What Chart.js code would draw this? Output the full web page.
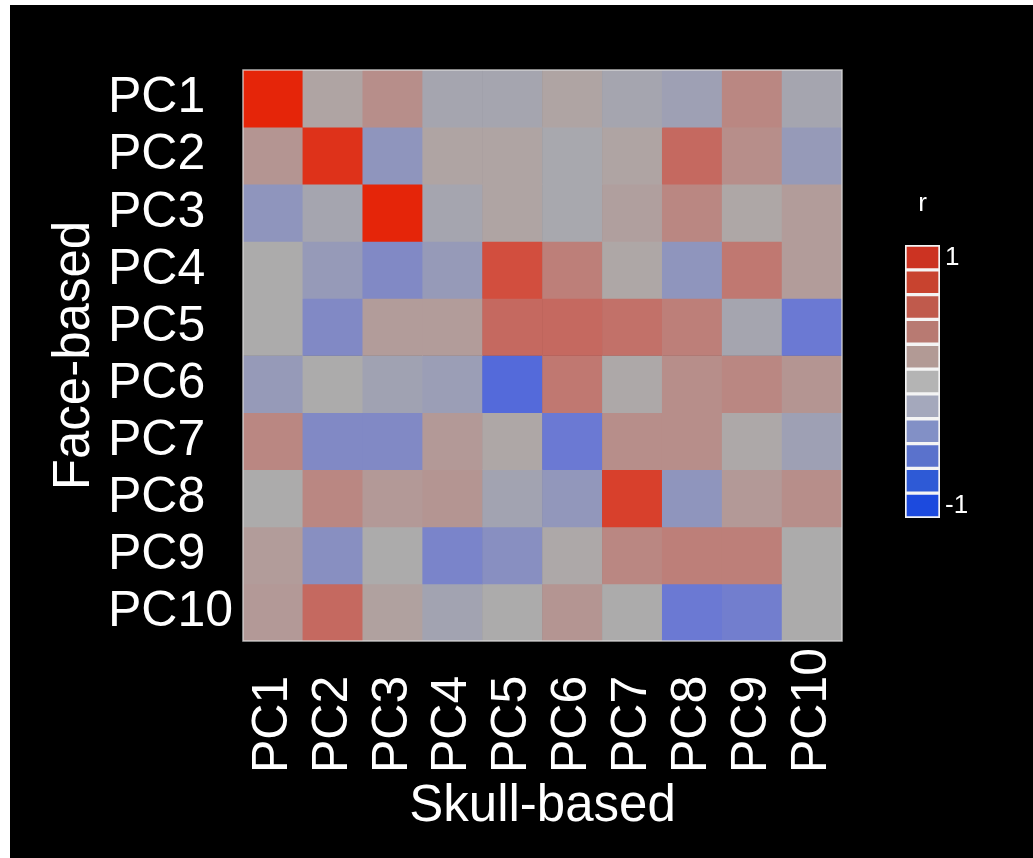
<!DOCTYPE html>
<html>
<head>
<meta charset="utf-8">
<script src="https://cdn.jsdelivr.net/npm/chart.js@4.4.1/dist/chart.umd.min.js"></script>
<style>
  body { margin: 0; background: #fff; }
  #wrap { position: absolute; left: 10px; top: 5px; width: 1023px; height: 853px; background: #000; }
  #heat { position: absolute; left: 0; top: 0; }
  #cbox { position: absolute; left: 870px; top: 175px; width: 120px; height: 360px; }
</style>
</head>
<body>
<div id="wrap">
  <canvas id="heat" width="1023" height="853"></canvas>
  <div id="cbox"><canvas id="cbar" width="120" height="360"></canvas></div>
</div>
<script>
// skull-based PCs along x, face-based PCs down y
const skullLabels = ['PC1','PC2','PC3','PC4','PC5','PC6','PC7','PC8','PC9','PC10'];
const faceLabels = ['PC1','PC2','PC3','PC4','PC5','PC6','PC7','PC8','PC9','PC10'];

// correlation r, one row per face-based PC
const corrValues = [
  [ 0.95,  0.05,  0.20, -0.05, -0.05,  0.05, -0.05, -0.10,  0.25, -0.05],
  [ 0.15,  0.85, -0.20,  0.05,  0.05, -0.03,  0.05,  0.45,  0.20, -0.15],
  [-0.20, -0.05,  0.95, -0.05,  0.05, -0.03,  0.08,  0.25,  0.03,  0.10],
  [ 0.00, -0.15, -0.30, -0.15,  0.65,  0.30,  0.03, -0.20,  0.35,  0.10],
  [ 0.00, -0.30,  0.10,  0.10,  0.45,  0.45,  0.40,  0.30, -0.05, -0.45],
  [-0.15,  0.00, -0.08, -0.12, -0.60,  0.35,  0.02,  0.20,  0.25,  0.15],
  [ 0.25, -0.30, -0.30,  0.12,  0.03, -0.45,  0.20,  0.20,  0.02, -0.10],
  [ 0.00,  0.25,  0.12,  0.15, -0.07, -0.18,  0.75, -0.20,  0.12,  0.20],
  [ 0.10, -0.25,  0.00, -0.35, -0.25,  0.02,  0.25,  0.30,  0.30,  0.00],
  [ 0.12,  0.45,  0.07, -0.07,  0.00,  0.15,  0.00, -0.45, -0.40,  0.00]
];

// colour bar levels (bottom to top) and its tick labels
const barLevels = [-1, -0.8, -0.6, -0.4, -0.2, 0, 0.2, 0.4, 0.6, 0.8, 1];
const barTicks = ['-1', '1'];

const barColors = ['#1c4ade','#2e5ad6','#5a72cc','#8290c6','#a4a8bc','#b4b4b4',
                   '#b29a95','#b87a72','#c05a4c','#c8432f','#cc3322'];

// r -> colour, blue / grey / red
const stops = [
  [-1,  [20, 72, 230]],
  [-0.5,[100, 115, 215]],
  [0,   [172, 171, 171]],
  [0.5, [200, 98, 88]],
  [1,   [232, 30, 0]]
];
function rColor(r) {
  for (var i = 0; i < stops.length - 1; i++) {
    var a = stops[i], b = stops[i + 1];
    if (r <= b[0]) {
      var t = (r - a[0]) / (b[0] - a[0]);
      var c = a[1].map((v, k) => Math.round(v + (b[1][k] - v) * t));
      return 'rgb(' + c.join(',') + ')';
    }
  }
  return 'rgb(232,30,0)';
}

const FONT = 'Liberation Sans, Arial, sans-serif';

const heatSets = corrValues.map((row, i) => ({
  label: faceLabels[i],
  data: row.map(() => [i + 0.5, i + 1.5]),
  backgroundColor: row.map(rColor),
  borderWidth: 0,
  barPercentage: 1,
  categoryPercentage: 1
}));

const frame = {
  id: 'frame',
  afterDatasetsDraw(chart) {
    const a = chart.chartArea, ctx = chart.ctx;
    ctx.save();
    ctx.strokeStyle = 'rgba(220,220,220,0.8)';
    ctx.lineWidth = 1.5;
    ctx.strokeRect(a.left, a.top, a.right - a.left, a.bottom - a.top);
    ctx.restore();
  }
};

// pad short labels with two spaces (= one digit) so they line up at the start
const padLabel = s => s.length < 4 ? s + '  ' : s;

new Chart(document.getElementById('heat'), {
  type: 'bar',
  data: { labels: skullLabels, datasets: heatSets },
  options: {
    responsive: false,
    animation: false,
    grouped: false,
    layout: { padding: { left: 0, top: 65, right: 191, bottom: 0 } },
    plugins: { legend: { display: false }, tooltip: { enabled: false } },
    scales: {
      x: {
        grid: { display: false, drawTicks: false },
        border: { display: false },
        ticks: {
          color: '#fff', font: { family: FONT, size: 50 },
          minRotation: 90, maxRotation: 90, autoSkip: false, padding: 7,
          callback: (v, i) => padLabel(skullLabels[i])
        },
        title: {
          display: true, text: 'Skull-based', color: '#fff',
          font: { family: FONT, size: 51 }, padding: { top: 0, bottom: 20 }
        },
        afterFit(s) { s.height = 217; }
      },
      y: {
        type: 'linear', min: 0.5, max: 10.5, reverse: true,
        grid: { display: false, drawTicks: false },
        border: { display: false },
        afterBuildTicks(s) { s.ticks = faceLabels.map((_, i) => ({ value: i + 1 })); },
        ticks: {
          color: '#fff', font: { family: FONT, size: 50 }, padding: 10,
          callback: v => padLabel(faceLabels[v - 1])
        },
        title: {
          display: true, text: 'Face-based', color: '#fff',
          font: { family: FONT, size: 51 }, padding: { top: 34, bottom: 0 }
        },
        afterFit(s) { s.width = 233; }
      }
    }
  },
  plugins: [frame]
});

// colour bar legend
new Chart(document.getElementById('cbar'), {
  type: 'bar',
  data: {
    labels: ['r'],
    datasets: barLevels.map((lv, i) => ({
      label: String(lv),
      data: [[i, i + 1]],
      backgroundColor: barColors[i],
      borderColor: '#f4f4f4',
      borderWidth: 2,
      borderSkipped: false,
      barPercentage: 1,
      categoryPercentage: 1
    }))
  },
  options: {
    responsive: false,
    animation: false,
    grouped: false,
    layout: { padding: { left: 25, top: 0, right: 0, bottom: 22 } },
    plugins: { legend: { display: false }, tooltip: { enabled: false } },
    scales: {
      x: {
        position: 'top',
        grid: { display: false, drawTicks: false },
        border: { display: false },
        ticks: { display: false },
        title: {
          display: true, text: 'r', color: '#fff',
          font: { family: FONT, size: 26 }, padding: { top: 8, bottom: 0 }
        },
        afterFit(s) { s.height = 65; }
      },
      y: {
        position: 'right',
        type: 'linear', min: 0, max: 11,
        grid: { display: false, drawTicks: false },
        border: { display: false },
        afterBuildTicks(s) { s.ticks = [{ value: 0.5 }, { value: 10.5 }]; },
        ticks: {
          color: '#fff', font: { family: FONT, size: 26 }, padding: 5,
          callback: v => v < 5 ? barTicks[0] : barTicks[1]
        },
        afterFit(s) { s.width = 60; }
      }
    }
  }
});
</script>
</body>
</html>
